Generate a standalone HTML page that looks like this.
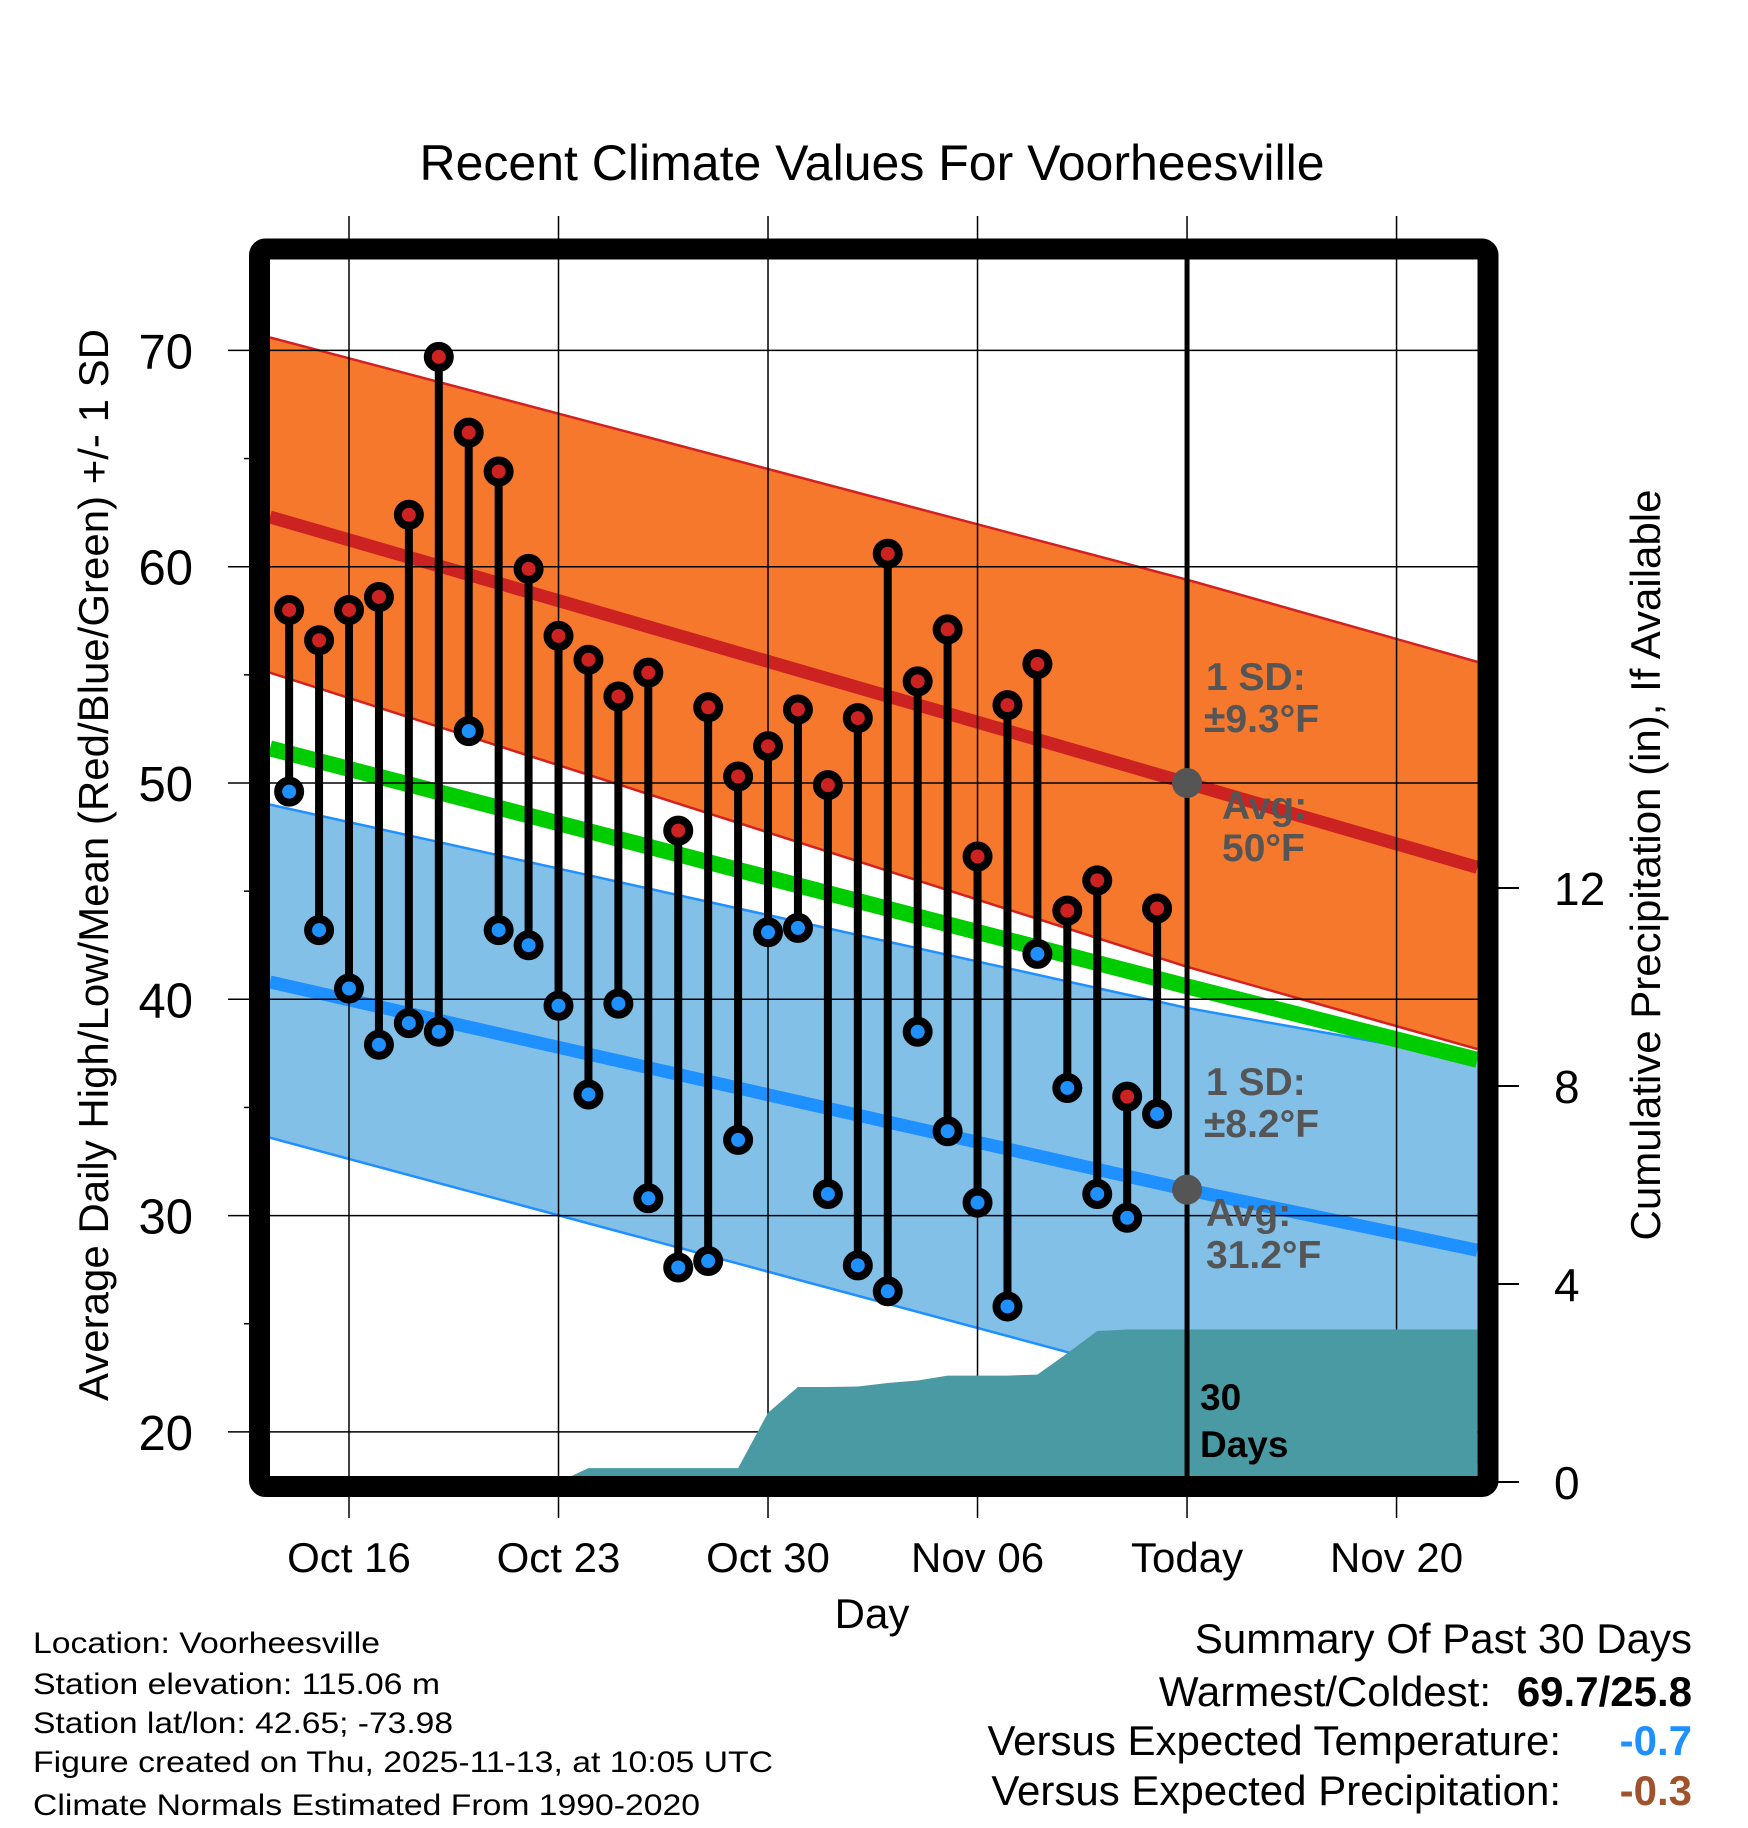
<!DOCTYPE html>
<html><head><meta charset="utf-8"><style>
html,body{margin:0;padding:0;background:#fff}
svg{display:block}
text{font-family:"Liberation Sans",Arial,sans-serif}
</style></head><body>
<svg id="chart" width="1748" height="1828" viewBox="0 0 1748 1828" xmlns="http://www.w3.org/2000/svg">
<defs><clipPath id="plotclip"><rect x="270" y="260" width="1208" height="1216"/></clipPath></defs>
<text x="872" y="180" font-size="50" text-anchor="middle">Recent Climate Values For Voorheesville</text>
<g id="plot" clip-path="url(#plotclip)"></g>
<g id="over"></g>
</svg>
<script>
// ---- data ----
const dayOffsets = [-2,-1,0,1,2,3,4,5,6,7,8,9,10,11,12,13,14,15,16,17,18,19,20,21,22,23,24,25,26,27]; // days since Oct 16
const highs = [58.0,56.6,58.0,58.6,62.4,69.7,66.2,64.4,59.9,56.8,55.7,54.0,55.1,47.8,53.5,50.3,51.7,53.4,49.9,53.0,60.6,54.7,57.1,46.6,53.6,55.5,44.1,45.5,35.5,44.2];
const lows  = [49.6,43.2,40.5,37.9,38.9,38.5,52.4,43.2,42.5,39.7,35.6,39.8,30.8,27.6,27.9,33.5,43.1,43.3,31.0,27.7,26.5,38.5,33.9,30.6,25.8,42.1,35.9,31.0,29.9,34.7];
const precipCum = [0,0,0,0,0,0,0,0,0,0,0.28,0.28,0.28,0.28,0.28,0.28,1.4,1.92,1.92,1.93,2.0,2.05,2.15,2.15,2.15,2.17,2.6,3.05,3.08,3.08];
const normDays = [-2.64,28,37.7];
const highUpper = [70.6,59.4,55.6];
const highAvg = [62.3,50.0,46.1];
const highLower = [55.1,41.5,37.7];
const meanAvg = [51.6,40.6,37.2];
const lowUpper = [49.0,39.6,37.2];
const lowAvg = [40.8,31.2,28.4];
const lowLower = [33.6,22.2,18.6];
const xTickDays = [0,7,14,21,28,35];
const xTickLabels = ["Oct 16","Oct 23","Oct 30","Nov 06","Today","Nov 20"];
const yTicks = [20,30,40,50,60,70];
const yMinor = [25,35,45,55,65];
const pTicks = [0,4,8,12];

// ---- scales ----
const X = d => 349 + d*29.93;
const Y = t => 350.4 + (70 - t)*21.63;
const YP = p => 1482 - p*49.5;
const NS = "http://www.w3.org/2000/svg";
const plot = document.getElementById('plot');
const over = document.getElementById('over');
function mk(tag, attrs, parent){const e=document.createElementNS(NS,tag);for(const k in attrs)e.setAttribute(k,attrs[k]);parent.appendChild(e);return e;}
function pts(arr){return normDays.map((d,i)=>X(d)+','+Y(arr[i])).join(' ');}
function band(up,lo){return normDays.map((d,i)=>X(d)+','+Y(up[i])).concat(normDays.slice().reverse().map((d,j)=>{const i=normDays.length-1-j;return X(d)+','+Y(lo[i]);})).join(' ');}

let e;
e = mk('polygon',{points:band(highUpper,highLower),fill:'#f5782d'},plot);


e = mk('polygon',{points:band(lowUpper,lowLower),fill:'#82c0e8'},plot);


[[highUpper,'#d42020',2.5,'high-upper-sd-line'],[highLower,'#d42020',2.5,'high-lower-sd-line'],[lowUpper,'#1e90ff',2.5,'low-upper-sd-line'],[lowLower,'#1e90ff',2.5,'low-lower-sd-line'],[meanAvg,'#00cc00',16,'mean-normal-line'],[highAvg,'#cc2222',13,'high-normal-line'],[lowAvg,'#1e90ff',13,'low-normal-line']].forEach(s=>{
  e = mk('polyline',{points:pts(s[0]),fill:'none',stroke:s[1],'stroke-width':s[2]},plot);
  
  
});
// gridlines
xTickDays.forEach(d=>{
  e = mk('line',{x1:X(d),x2:X(d),y1:216,y2:1518,stroke:'#000','stroke-width':1.5},over);
  
  
});
yTicks.forEach(t=>{
  e = mk('line',{x1:228,x2:1478,y1:Y(t),y2:Y(t),stroke:'#000','stroke-width':1.5},over);
  
  
});
yMinor.forEach(t=>{
  e = mk('line',{x1:244,x2:260,y1:Y(t),y2:Y(t),stroke:'#000','stroke-width':1.5},over);
  
  
});
// precipitation area
let pp = [X(-2.64)+','+YP(0)];
dayOffsets.forEach((d,i)=>pp.push(X(d)+','+YP(precipCum[i])));
pp.push(X(37.7)+','+YP(precipCum[precipCum.length-1]));
pp.push(X(37.7)+','+YP(0));
const precipG = document.createElementNS(NS,'g');
precipG.setAttribute('clip-path','url(#plotclip)');
over.appendChild(precipG);
e = mk('polygon',{points:pp.join(' '),fill:'#4a9aa3'},precipG);


// today line
e = mk('line',{x1:X(28),x2:X(28),y1:252,y2:1490,stroke:'#000','stroke-width':5},over);


// normal markers
[[highAvg[1],'high-normal-marker'],[lowAvg[1],'low-normal-marker']].forEach(m=>{
  e = mk('circle',{cx:X(28),cy:Y(m[0]),r:15,fill:'#555'},over);
  
  
});
// stems
dayOffsets.forEach((d,i)=>{
  e = mk('line',{x1:X(d),x2:X(d),y1:Y(highs[i]),y2:Y(lows[i]),stroke:'#000','stroke-width':8},over);
  
  
});
dayOffsets.forEach((d,i)=>{
  e = mk('circle',{cx:X(d),cy:Y(highs[i]),r:11,fill:'#cc2222',stroke:'#000','stroke-width':8},over);
  
  
  e = mk('circle',{cx:X(d),cy:Y(lows[i]),r:11,fill:'#1e90ff',stroke:'#000','stroke-width':8},over);
  
  
});
// frame
e = mk('rect',{x:259.5,y:249,width:1228.5,height:1237.5,rx:6,fill:'none',stroke:'#000','stroke-width':21},over);


// axis labels
yTicks.forEach(t=>{
  e = mk('text',{x:193,y:Y(t)+18,'font-size':49,'text-anchor':'end'},over);
  e.textContent = t;
  
  
});
pTicks.forEach(p=>{
  e = mk('line',{x1:1498,x2:1519,y1:YP(p),y2:YP(p),stroke:'#000','stroke-width':2},over);
  
  
  e = mk('text',{x:1554,y:YP(p)+17,'font-size':46},over);
  e.textContent = p;
  
  
});
xTickDays.forEach((d,i)=>{
  e = mk('text',{x:X(d),y:1572,'font-size':42,'text-anchor':'middle'},over);
  e.textContent = xTickLabels[i];
  
  
});
</script>
<svg style="position:absolute;left:0;top:0" width="1748" height="1828" xmlns="http://www.w3.org/2000/svg">
<text x="872" y="1628" font-size="42" text-anchor="middle">Day</text>
<text transform="translate(108,865) rotate(-90)" font-size="42" text-anchor="middle">Average Daily High/Low/Mean (Red/Blue/Green) +/- 1 SD</text>
<text transform="translate(1660,865) rotate(-90)" font-size="42" text-anchor="middle">Cumulative Precipitation (in), If Available</text>
<g font-weight="bold" font-size="39" fill="#555">
<text x="1206" y="690">1 SD:</text>
<text x="1204" y="732">±9.3°F</text>
<text x="1222" y="819">Avg:</text>
<text x="1222" y="861">50°F</text>
<text x="1206" y="1095">1 SD:</text>
<text x="1204" y="1137">±8.2°F</text>
<text x="1206" y="1226">Avg:</text>
<text x="1206" y="1268">31.2°F</text>
</g>
<text x="1200" y="1410" font-size="37" font-weight="bold">30</text>
<text x="1200" y="1457" font-size="37" font-weight="bold">Days</text>
<g font-size="30">
<text x="33" y="1653" textLength="347" lengthAdjust="spacingAndGlyphs">Location: Voorheesville</text>
<text x="33" y="1694" textLength="407" lengthAdjust="spacingAndGlyphs">Station elevation: 115.06 m</text>
<text x="33" y="1733" textLength="420" lengthAdjust="spacingAndGlyphs">Station lat/lon: 42.65; -73.98</text>
<text x="33" y="1772" textLength="740" lengthAdjust="spacingAndGlyphs">Figure created on Thu, 2025-11-13, at 10:05 UTC</text>
<text x="33" y="1815" textLength="667" lengthAdjust="spacingAndGlyphs">Climate Normals Estimated From 1990-2020</text>
</g>
<g font-size="42">
<text x="1692" y="1653" text-anchor="end">Summary Of Past 30 Days</text>
<text x="1491" y="1706" text-anchor="end">Warmest/Coldest:</text>
<text x="1692" y="1706" text-anchor="end" font-weight="bold">69.7/25.8</text>
<text x="1561" y="1755" text-anchor="end">Versus Expected Temperature:</text>
<text x="1692" y="1755" text-anchor="end" font-weight="bold" fill="#1e90ff">-0.7</text>
<text x="1561" y="1805" text-anchor="end">Versus Expected Precipitation:</text>
<text x="1692" y="1805" text-anchor="end" font-weight="bold" fill="#a0522d">-0.3</text>
</g>
</svg>
</body></html>
